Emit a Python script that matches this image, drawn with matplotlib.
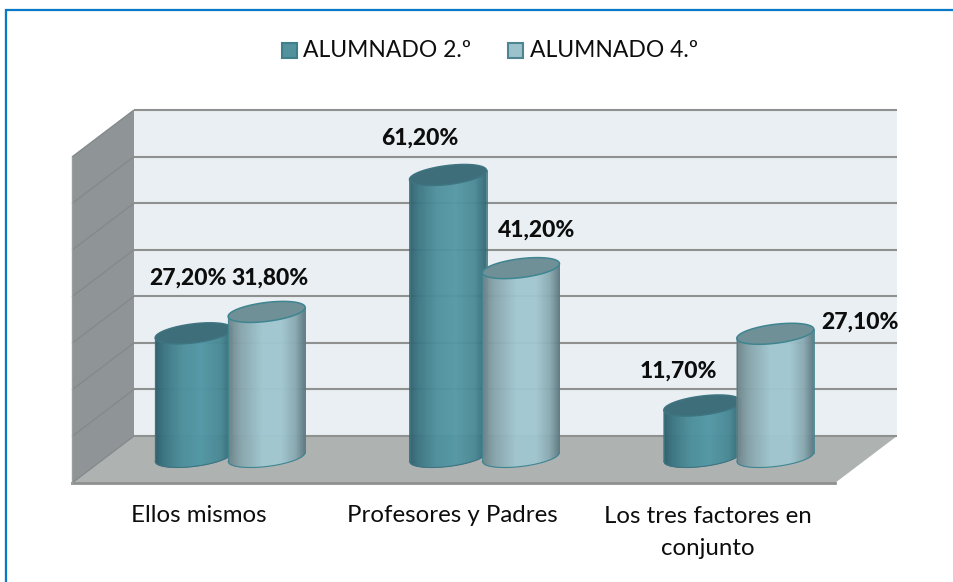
import numpy as np
import matplotlib
matplotlib.use("Agg")
import matplotlib.pyplot as plt
from matplotlib.collections import PolyCollection
from matplotlib.colors import LinearSegmentedColormap
from matplotlib.patches import Polygon, Rectangle

categories = ["Ellos mismos", "Profesores y Padres", "Los tres factores en\nconjunto"]
series_names = ["ALUMNADO 2.º", "ALUMNADO 4.º"]
alumnado_2 = [27.2, 61.2, 11.7]
alumnado_4 = [31.8, 41.2, 27.1]
label_2 = ["27,20%", "61,20%", "11,70%"]
label_4 = ["31,80%", "41,20%", "27,10%"]
grid_values = [0, 10, 20, 30, 40, 50, 60, 70]

W, H = 954, 582
plt.rcParams["font.family"] = ["Lato", "DejaVu Sans"]
fig = plt.figure(figsize=(W / 100, H / 100), dpi=100, facecolor="white")

# overlay in pixel coordinates for the 3-D decoration
pa = fig.add_axes([0, 0, 1, 1])
pa.set_xlim(0, W); pa.set_ylim(H, 0); pa.axis("off")

# value scale: the front plane of the 3-D box
L, R, B, T = 72, 835, 483, 157
ax = fig.add_axes([L / W, 1 - B / H, (R - L) / W, (B - T) / H])
ax.set_xlim(-0.5, 2.5); ax.set_ylim(0, 70); ax.axis("off")
ax.patch.set_alpha(0)


def px(x, y):
    return pa.transData.inverted().transform(ax.transData.transform((x, y)))


DX, DY = 62, 47          # box depth
BX, BY_BASE, BY_TOP = 31, 26, 23   # cylinder depth offsets
GRID = "#8f9191"
WALL = "#e9eff2"
SIDE = "#8f9496"
FLOOR = "#aeb3b2"

x0, y0 = px(-0.5, 0)
x1, _ = px(2.5, 0)
_, ytop = px(-0.5, 70)
pa.add_patch(Polygon([(x0 + DX, ytop - DY), (x1 + DX, ytop - DY), (x1 + DX, y0 - DY), (x0 + DX, y0 - DY)],
                     fc=WALL, ec="none", zorder=1))
pa.add_patch(Polygon([(x0, ytop), (x0 + DX, ytop - DY), (x0 + DX, y0 - DY), (x0, y0)], fc=SIDE, ec="none", zorder=1))
pa.add_patch(Polygon([(x0, y0), (x0 + DX, y0 - DY), (x1 + DX, y0 - DY), (x1, y0)], fc=FLOOR, ec="none", zorder=1))
for v in grid_values:
    _, yy = px(-0.5, v)
    pa.plot([x0, x0 + DX], [yy, yy - DY], color="#85898b", lw=1.0, zorder=2, solid_capstyle="butt")
    pa.plot([x0 + DX, x1 + DX], [yy - DY, yy - DY], color=GRID, lw=1.5, zorder=2, solid_capstyle="butt")
pa.plot([x0, x1], [y0, y0], color=GRID, lw=2, zorder=2)
pa.plot([x0, x0], [y0, ytop], color="#9a9e9f", lw=1.0, zorder=2)

dark = LinearSegmentedColormap.from_list(
    "d", [(0, "#2f5f6c"), (0.12, "#3c7683"), (0.35, "#4d8f9c"), (0.6, "#5498a5"), (0.85, "#4a8996"), (1, "#336a76")])
light = LinearSegmentedColormap.from_list(
    "l", [(0, "#6b8389"), (0.15, "#86a3aa"), (0.45, "#a1c7d0"), (0.7, "#a1c7d0"), (0.88, "#8aa9b1"), (1, "#607b84")])


def cylinder(cat, off, val, cmap, top_fc, top_ec, z):
    xc, ybase = px(cat + off, 0)
    _, ytp = px(cat + off, val)
    xc += BX; ybase -= BY_BASE; ytp -= BY_TOP
    rx, a, b = 38.5, 4.5, 9.5
    n = 77
    us = np.linspace(-1, 1, n + 1)
    polys, cols = [], []
    for i in range(n):
        u0, u1 = us[i], us[i + 1]
        f = lambda u, yb: (xc + rx * u, yb - a * u + b * np.sqrt(1 - u * u))
        t = lambda u: (xc + rx * u, ytp - a * u)
        polys.append([t(u0), t(u1), f(u1, ybase), f(u0, ybase)])
        cols.append(cmap((u0 + u1 + 2) / 4))
    pa.add_collection(PolyCollection(polys, facecolors=cols, edgecolors=cols, linewidths=0.4, zorder=z))
    th = np.linspace(0, 2 * np.pi, 120)
    top = np.c_[xc + rx * np.cos(th), ytp - a * np.cos(th) - b * np.sin(th)]
    pa.add_patch(Polygon(top, fc=top_fc, ec=top_ec, lw=1.1, zorder=z + 0.1))
    ub = np.linspace(-1, 1, 80)
    outline = np.c_[xc + rx * ub, ybase - a * ub + b * np.sqrt(1 - ub * ub)]
    pa.plot(outline[:, 0], outline[:, 1], color=top_ec, lw=0.8, zorder=z + 0.1)
    pa.plot([xc - rx, xc - rx], [ytp + a, ybase + a], color=top_ec, lw=0.6, zorder=z + 0.1)
    pa.plot([xc + rx, xc + rx], [ytp - a, ybase - a], color=top_ec, lw=0.6, zorder=z + 0.1)


for i in range(3):
    cylinder(i, -0.1435, alumnado_2[i], dark, "#3e6e7a", "#3f7481", 3 + i)
    cylinder(i, 0.1435, alumnado_4[i], light, "#6f9096", "#3f8591", 3.5 + i)

# data labels
lab_pos_2 = [(188, 278), (420, 138), (678, 371)]
lab_pos_4 = [(270, 278), (537, 230), (860, 322)]
for s, (x, y) in zip(label_2 + label_4, lab_pos_2 + lab_pos_4):
    pa.text(x, y, s, ha="center", va="center", fontsize=16.5, fontweight="black", color="#0d0d0d", zorder=10)

# category labels
cat_y = [516, 516, 532.5]
cat_x = [199, 452, 708]
for c, x, y in zip(categories, cat_x, cat_y):
    pa.text(x, y, c, ha="center", va="center", fontsize=17.3, color="#0d0d0d", linespacing=1.6, zorder=10)

# legend
for name, xb, xt, fc, ec in zip(series_names, [282, 508.5], [303, 530], ["#53929d", "#9cc3cb"], ["#3f7f8c", "#4f8592"]):
    pa.add_patch(Rectangle((xb, 43), 15, 15, fc=fc, ec=ec, lw=1.5, zorder=10))
    pa.text(xt, 50.5, name, ha="left", va="center", fontsize=16.5, color="#0d0d0d", zorder=10)

# outer frame: only the top and left edges are drawn
pa.plot([5.5, 5.5], [H, 10], color="#cfe0ee", lw=1.0, zorder=10.5)
pa.plot([6.5, 6.5, W], [H, 10, 10], color="#0a78c8", lw=1.6, zorder=11, solid_joinstyle="miter")

fig.savefig("out.png", dpi=100, facecolor="white")
